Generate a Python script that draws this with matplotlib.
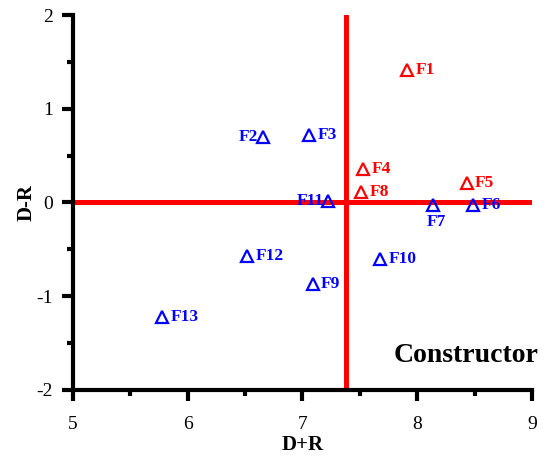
import matplotlib
matplotlib.use("Agg")
import matplotlib.pyplot as plt
from matplotlib.ticker import MultipleLocator

names = ["F1", "F2", "F3", "F4", "F5", "F6", "F7", "F8", "F9", "F10", "F11", "F12", "F13"]
d_plus_r = [7.91, 6.66, 7.06, 7.53, 8.43, 8.49, 8.14, 7.51, 7.09, 7.68, 7.22, 6.52, 5.78]
d_minus_r = [1.41, 0.70, 0.72, 0.36, 0.21, -0.03, -0.03, 0.11, -0.87, -0.60, 0.02, -0.57, -1.22]
groups = ["cause", "effect", "effect", "cause", "cause", "effect", "effect", "cause",
          "effect", "effect", "effect", "effect", "effect"]
threshold_x = 7.38
threshold_y = 0.0

colors = {"cause": "#ff0000", "effect": "#0000ff"}
# label placement: (dx, dy in points, ha, va)
label_pos = {"F2": (-4, 0, "right", "center"), "F11": (-3, 0, "right", "center"),
             "F7": (2, -12, "center", "center")}

plt.rcParams["font.family"] = ["Liberation Serif", "DejaVu Serif"]
plt.rcParams["axes.unicode_minus"] = False
fig = plt.figure(figsize=(5.5, 4.62), dpi=100)
ax = fig.add_axes([0.1327, 0.156, 0.8345, 0.8115])

ax.axvline(threshold_x, color="#ff0000", lw=3.6, zorder=2)
ax.axhline(threshold_y, color="#ff0000", lw=3.6, zorder=2)

for n, x, y, g in zip(names, d_plus_r, d_minus_r, groups):
    c = colors[g]
    ax.plot([x], [y], marker="^", ms=9, mfc="none", mec=c, mew=1.6, ls="none", zorder=3)
    dx, dy, ha, va = label_pos.get(n, (6, 0, "left", "center"))
    ax.annotate(n, (x, y), xytext=(dx, dy), textcoords="offset points",
                ha=ha, va=va, color=c, fontsize=12.5, fontweight="bold", zorder=4)

ax.text(1.015, 0.093, "Constructor", transform=ax.transAxes, ha="right", va="center",
        fontsize=20, fontweight="bold")

ax.set_xlim(5, 9)
ax.set_ylim(-2, 2)
ax.xaxis.set_major_locator(MultipleLocator(1))
ax.xaxis.set_minor_locator(MultipleLocator(0.5))
ax.yaxis.set_major_locator(MultipleLocator(1))
ax.yaxis.set_minor_locator(MultipleLocator(0.5))
for s in ["top", "right"]:
    ax.spines[s].set_visible(False)
for s in ["left", "bottom"]:
    ax.spines[s].set_linewidth(3)
ax.tick_params(which="major", direction="out", length=8, width=3, labelsize=14)
ax.tick_params(which="minor", direction="out", length=4.5, width=3)
ax.tick_params(axis="x", which="major", pad=11)
ax.tick_params(axis="y", which="major", pad=6.5)
ax.set_xlabel("D+R", fontsize=15, fontweight="bold", labelpad=1)
ax.set_ylabel("D-R", fontsize=15, fontweight="bold", labelpad=0)

fig.savefig("out.png", dpi=100)
